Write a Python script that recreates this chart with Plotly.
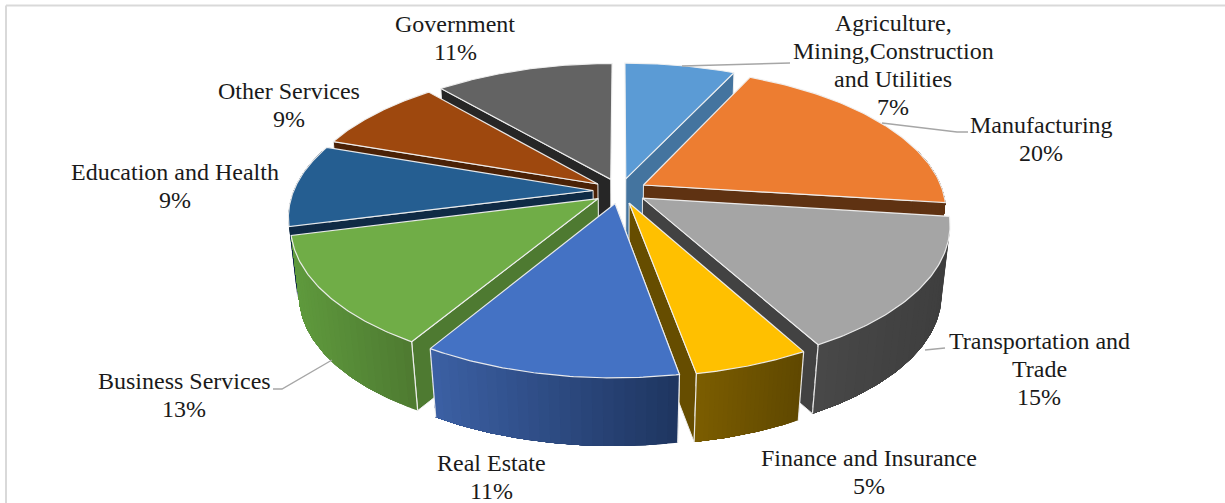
import math
import plotly.graph_objects as go

# ---- data ----
categories = ["Agriculture,<br>Mining,Construction<br>and Utilities", "Manufacturing",
              "Transportation and<br>Trade", "Finance and Insurance", "Real Estate",
              "Business Services", "Education and Health", "Other Services", "Government"]
# printed percentages
labels_pct = [7, 20, 15, 5, 11, 13, 9, 9, 11]
# slice sizes as drawn
shares = [7.0, 20.0, 15.0, 5.15, 11.45, 12.4, 9.3, 8.37, 11.33]

top_colors = ["#5b9bd5", "#ed7d31", "#a5a5a5", "#ffc000", "#4472c4", "#70ad47", "#255e91", "#9e480e", "#636363"]
cut_colors = ["#44749f", "#5f3212", "#424242", "#664d00", "#1e3460", "#4e7a31", "#0f2a45", "#4a2106", "#262626"]
rim_left = ["#44749f", "#5f3212", "#484848", "#7c5d00", "#3c60a4", "#5f9a3d", "#0f2a45", "#4a2106", "#262626"]
rim_right = ["#44749f", "#5f3212", "#3e3e3e", "#5f4800", "#1e3560", "#4e7a31", "#0f2a45", "#4a2106", "#262626"]
draw_order = [8, 0, 7, 1, 6, 2, 5, 3, 4]

label_pos = [(893, 65), (1041, 139), (1039, 369), (869, 472), (491, 477),
             (184, 395), (175, 186), (289, 105), (455, 38)]

# ---- view settings ----
W, H = 1225, 503
CX, CY, A, B, K = 620, 191, 299.5, 139.5, 0.172
EXPLODE, DEPTH, STRIPS, ARC = 0.09, 70, 24, 72
LINE_GAP, FONT_SIZE = 28, 24


def project(u, v, down=0.0):
    f = 1 / (1 + K * v + 0.025 * down)
    return (CX + A * u * f, CY - B * v * f + DEPTH * down * (1 - 0.05 * v))


def mix(c1, c2, t):
    a = [int(c1[i:i + 2], 16) for i in (1, 3, 5)]
    b = [int(c2[i:i + 2], 16) for i in (1, 3, 5)]
    return "rgb(%d,%d,%d)" % tuple(round(p + (q - p) * t) for p, q in zip(a, b))


fig = go.Figure()


def poly(pts, fill, line=None, width=1.0):
    xs = [p[0] for p in pts] + [pts[0][0]]
    ys = [p[1] for p in pts] + [pts[0][1]]
    fig.add_trace(go.Scatter(x=xs, y=ys, mode="lines", fill="toself", fillcolor=fill,
                             line=dict(color=line or fill, width=width),
                             hoverinfo="skip", showlegend=False))


# ---- slices from the share values ----
total = sum(shares)
starts, acc = [], 0.0
for s in shares:
    starts.append(acc / total * 2 * math.pi)
    acc += s

EDGE = "rgba(240,240,240,0.95)"
for i in draw_order:
    a0 = starts[i]
    a1 = a0 + shares[i] / total * 2 * math.pi
    mid = (a0 + a1) / 2
    u0, v0 = EXPLODE * math.sin(mid), EXPLODE * math.cos(mid)
    rim = [(u0 + math.sin(a0 + (a1 - a0) * j / ARC), v0 + math.cos(a0 + (a1 - a0) * j / ARC))
           for j in range(ARC + 1)]

    # straight cut wall: only the one nearer the viewer can be seen
    end = max((rim[0], rim[-1]), key=lambda p: project(*p)[1])
    poly([project(u0, v0), project(*end), project(*end, 1), project(u0, v0, 1)],
         cut_colors[i], EDGE, 1)

    # curved outer wall as shaded strips, each running on to the end of the arc
    step = ARC // STRIPS
    xs_all = [project(*p)[0] for p in rim]
    xmin, xmax = min(xs_all), max(xs_all)
    for j in range(0, ARC, step):
        seg = [p for p in rim[j:] if p[1] <= 0.3]
        if len(seg) < 2:
            continue
        near = rim[j:j + step + 1]
        t = (project(*near[0])[0] + project(*near[-1])[0]) / 2
        t = (t - xmin) / max(xmax - xmin, 1)
        poly([project(*p) for p in seg] + [project(*p, 1) for p in reversed(seg)],
             mix(rim_left[i], rim_right[i], t), "rgba(0,0,0,0)", 0)
    # edge lines of the outer wall, only on the corners facing the viewer
    for end in (rim[0], rim[-1]):
        if end[1] < -0.5:
            a_pt, b_pt = project(*end), project(*end, 1)
            fig.add_trace(go.Scatter(x=[a_pt[0], b_pt[0]], y=[a_pt[1], b_pt[1]], mode="lines",
                                     line=dict(color=EDGE, width=1.2), hoverinfo="skip", showlegend=False))

    # top face
    poly([project(u0, v0)] + [project(*p) for p in rim], top_colors[i], EDGE, 1.2)

# ---- leader lines ----
leaders = [[(682, 66), (790, 63)],
           [(882, 123), (957, 132), (968, 132)],
           [(925, 350), (945, 348)],
           [(332, 360), (282, 389), (273, 389)]]
for seg in leaders:
    fig.add_trace(go.Scatter(x=[p[0] for p in seg], y=[p[1] for p in seg], mode="lines",
                             line=dict(color="#a6a6a6", width=1.4), hoverinfo="skip", showlegend=False))

# ---- labels, one annotation per line to keep the tight line spacing ----
for name, pct, (lx, ly) in zip(categories, labels_pct, label_pos):
    lines = name.split("<br>") + [f"{pct}%"]
    for k, line in enumerate(lines):
        fig.add_annotation(x=lx, y=ly + (k - (len(lines) - 1) / 2) * LINE_GAP, xref="x", yref="y",
                           text=line, showarrow=False, xanchor="center", yanchor="middle",
                           font=dict(family="Liberation Serif", size=FONT_SIZE, color="#1a1a1a"))

# ---- frame ----
FRAME = dict(color="#d9d9d9", width=2)
fig.add_shape(type="line", x0=6, x1=6, y0=5.5, y1=H, xref="x", yref="y", line=FRAME)
fig.add_shape(type="line", x0=6, x1=W, y0=5.5, y1=5.5, xref="x", yref="y", line=FRAME)

fig.update_layout(width=W, height=H, margin=dict(l=0, r=0, t=0, b=0), showlegend=False,
                  paper_bgcolor="white", plot_bgcolor="white",
                  xaxis=dict(range=[0, W], visible=False, fixedrange=True),
                  yaxis=dict(range=[H, 0], visible=False, fixedrange=True))

fig.write_html("out.html", config=dict(displayModeBar=False),
               post_script="document.body.style.margin='0';document.documentElement.style.overflow='hidden';")
